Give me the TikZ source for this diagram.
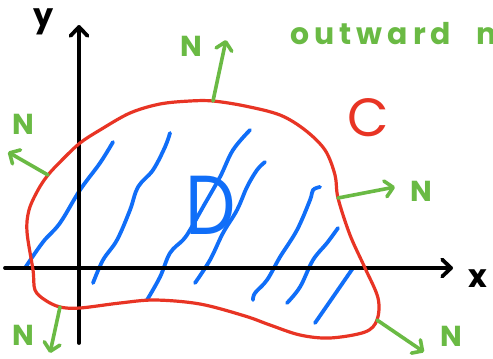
\documentclass[tikz,border=0pt]{standalone}
\usepackage{fontspec}
\setmainfont{Poppins}
\usetikzlibrary{arrows.meta}
\definecolor{cred}{RGB}{232,52,36}
\definecolor{cblue}{RGB}{16,110,248}
\definecolor{cgreen}{RGB}{106,186,68}
\begin{document}
\begin{tikzpicture}[x=1bp,y=-1bp,
  axis/.style={line width=3.8bp, line cap=round, black,
    -{Straight Barb[round,length=9bp,width=17bp]}},
  normal/.style={line width=3.6bp, line cap=round, cgreen,
    -{Straight Barb[round,length=8bp,width=16bp]}},
  hatch/.style={line width=3.8bp, line cap=round, line join=round, cblue},
  curveC/.style={line width=3.2bp, cred, line join=round},
  lblN/.style={text=cgreen, font=\fontsize{29}{29}\selectfont\bfseries, inner sep=0pt},
  lblax/.style={text=black, font=\fontsize{32}{32}\selectfont\bfseries, inner sep=0pt}
]
\clip (0,0) rectangle (493,358);
\fill[white] (0,0) rectangle (493,358);

% region hatching
\draw[hatch] plot[smooth, tension=0.6] coordinates {(25,268) (43,242) (60,223) (80,190) (100,163) (113,142)};
\draw[hatch] plot[smooth, tension=0.6] coordinates {(93,283) (103,260) (117,240) (130,210) (138,187) (153,170) (165,147) (170,133)};
\draw[hatch] plot[smooth, tension=0.6] coordinates {(147,300) (160,277) (170,253) (183,240) (190,230) (203,207) (220,177) (233,150) (250,130)};
\draw[hatch] plot[smooth, tension=0.6] coordinates {(195,283) (210,260) (223,233) (237,210) (247,187) (257,170) (265,162)};
\draw[hatch] plot[smooth, tension=0.6] coordinates {(253,300) (255,293) (267,280) (280,257) (297,230) (310,200) (313,190) (320,187)};
\draw[hatch] plot[smooth, tension=0.6] coordinates {(287,303) (300,287) (313,260) (327,243) (338,228)};
\draw[hatch] plot[smooth, tension=0.6] coordinates {(315,323) (333,297) (353,268)};

% axes
\coordinate (xs) at (5,268);
\coordinate (xe) at (453,268);
\coordinate (ys) at (79,343);
\coordinate (ye) at (79,25);
\draw[axis] (xs) -- (xe);
\draw[axis] (ys) -- (ye);
\node[lblax] (xl) at (478,279) {x};
\node[lblax] (yl) at (44,22) {y};

% curve C
\coordinate (bl) at (48,175);
\coordinate (bt) at (213,101);
\coordinate (br) at (338,198);
\coordinate (bbr) at (377,320);
\coordinate (bbl) at (60,307);
\draw[curveC] plot[smooth cycle, tension=0.55] coordinates {
  (bl) (62,160) (80,143) (100,130) (130,113) (160,104) (190,101) (bt)
  (245,106) (280,115) (305,130) (325,150) (335,175) (br) (350,235)
  (365,268) (378,298) (bbr) (365,332) (330,338) (300,335) (270,325)
  (245,316) (200,304) (155,300) (120,303) (80,308) (bbl) (45,300)
  (35,290) (33,270) (27,232) (29,210) (38,190)};
\node[text=cred, font=\fontsize{54}{54}\selectfont, inner sep=0pt] (cl) at (368,118) {C};
\node[text=cblue, font=\fontsize{84}{84}\selectfont, inner sep=0pt, xscale=0.85] (dl) at (211,205) {D};

% outward normals
\coordinate (nt) at (226,40);
\coordinate (nl) at (8,152);
\coordinate (nr) at (395,187);
\coordinate (nbr) at (424,352);
\coordinate (nbl) at (50,353);
\draw[normal] (bt) -- (nt);
\draw[normal] (bl) -- (nl);
\draw[normal] (br) -- (nr);
\draw[normal] (bbr) -- (nbr);
\draw[normal] (bbl) -- (nbl);
\node[lblN] (Nt) at (191,46) {N};
\node[lblN] (Nl) at (23,124) {N};
\node[lblN] (Nr) at (421,191) {N};
\node[lblN] (Nbr) at (451,336) {N};
\node[lblN] (Nbl) at (23,335) {N};

\node[text=cgreen, font=\fontsize{30}{30}\selectfont\bfseries\addfontfeature{LetterSpace=17}, anchor=base west, inner sep=0pt] (ow) at (290,44) {outward\ \hspace{14bp}n};
\end{tikzpicture}
\end{document}
